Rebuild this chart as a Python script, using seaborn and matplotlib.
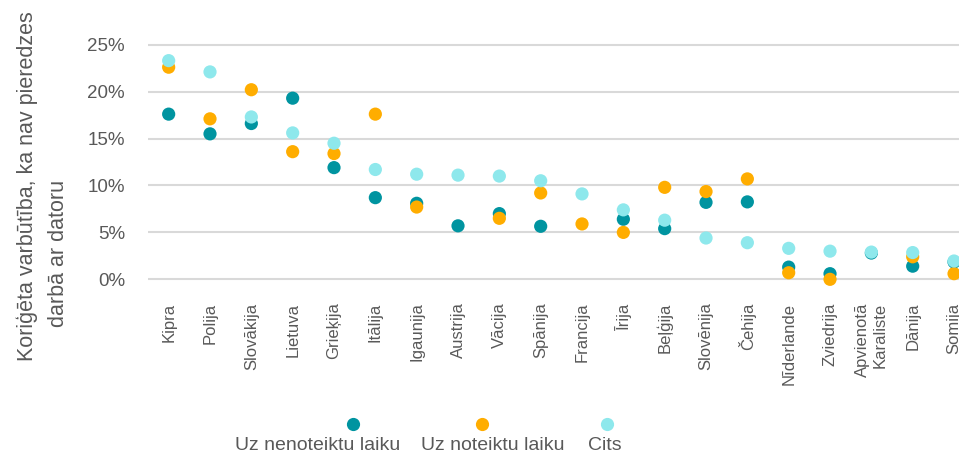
import numpy as np
import pandas as pd
import matplotlib
matplotlib.use("Agg")
import matplotlib.pyplot as plt
from matplotlib.lines import Line2D
import seaborn as sns

countries = ["Kipra", "Polija", "Slovākija", "Lietuva", "Grieķija", "Itālija",
             "Igaunija", "Austrija", "Vācija", "Spānija", "Francija", "Īrija",
             "Beļģija", "Slovēnija", "Čehija", "Nīderlande", "Zviedrija",
             "Apvienotā\nKaraliste", "Dānija", "Somija"]

series_names = ["Uz nenoteiktu laiku", "Uz noteiktu laiku", "Cits"]

# percentages
indefinite = [17.6, 15.5, 16.6, 19.3, 11.9, 8.7, 8.1, 5.7, 7.0, 5.65, np.nan, 6.4,
              5.4, 8.2, 8.25, 1.3, 0.6, 2.8, 1.4, 1.85]
fixed_term = [22.6, 17.1, 20.2, 13.6, 13.4, 17.6, 7.7, np.nan, 6.5, 9.2, 5.9, 5.0,
              9.8, 9.35, 10.7, 0.7, 0.0, np.nan, 2.4, 0.6]
other = [23.3, 22.1, 17.3, 15.6, 14.5, 11.7, 11.2, 11.1, 11.0, 10.5, 9.1, 7.4,
         6.3, 4.4, 3.9, 3.3, 3.0, 2.9, 2.85, 1.95]

yticks = [0, 5, 10, 15, 20, 25]
ytick_labels = ["0%", "5%", "10%", "15%", "20%", "25%"]

colors = ["#0094A0", "#FFAD00", "#8EE8EC"]
text_color = "#595959"

df = pd.DataFrame({
    "country": countries * 3,
    "series": np.repeat(series_names, len(countries)),
    "value": indefinite + fixed_term + other,
})

sns.set_theme(style="white")
plt.rcParams["font.family"] = ["Liberation Sans", "DejaVu Sans"]

fig = plt.figure(figsize=(9.59, 4.54), dpi=100)
ax = fig.add_axes([0.15433, 0.36410, 0.86204, 0.55815])

sns.stripplot(data=df, x="country", y="value", hue="series", order=countries,
              hue_order=series_names, palette=colors, jitter=False, dodge=False,
              size=9.5, linewidth=0, legend=False, ax=ax)

ax.set_xlim(-0.5, len(countries) - 0.5)
ax.set_ylim(-1, 26)
ax.set_yticks(yticks)
ax.set_yticklabels(ytick_labels)
ax.yaxis.grid(True, color="#D9D9D9", linewidth=1.5)
ax.xaxis.grid(False)
ax.set_axisbelow(True)
for sp in ax.spines.values():
    sp.set_visible(False)
ax.set_xlabel("")
ax.set_ylabel("")

ax.tick_params(axis="y", length=0, pad=16.5, labelsize=13.5, labelcolor=text_color)
ax.tick_params(axis="x", length=0, pad=10, labelsize=12, labelcolor=text_color)
for lbl in ax.get_xticklabels():
    lbl.set_rotation(90)
    lbl.set_ha("center")
    lbl.set_va("top")
    lbl.set_multialignment("right")

# axis title, two lines
fig.text(0.0282, 0.5903, "Koriģēta varbūtība, ka nav pieredzes", rotation=90,
         ha="center", va="center", fontsize=15.5, color=text_color)
fig.text(0.0605, 0.4427, "darbā ar datoru", rotation=90,
         ha="center", va="center", fontsize=15.5, color=text_color)

# legend: marker above each label
marker_x = [353, 482, 607]
label_x = [318, 493, 605]
for mx, lx, name, col in zip(marker_x, label_x, series_names, colors):
    fig.add_artist(Line2D([mx / 959], [1 - 424 / 454], marker="o", markersize=9.5,
                          color=col, markeredgewidth=0, linestyle="none",
                          transform=fig.transFigure))
    fig.text(lx / 959, 1 - 445.5 / 454, name, ha="center", va="center",
             fontsize=14, color=text_color)

fig.savefig("out.png", dpi=100)
